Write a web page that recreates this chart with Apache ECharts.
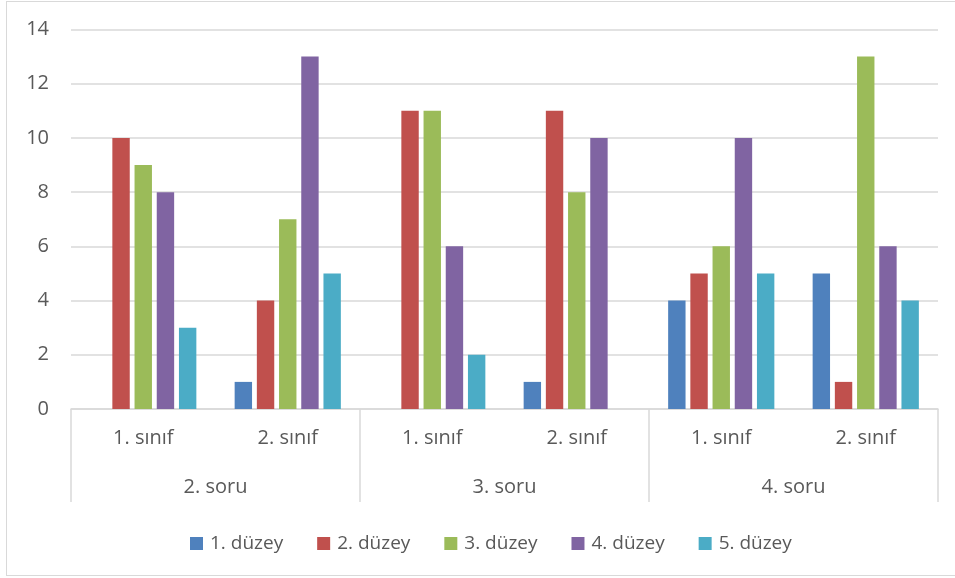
<!DOCTYPE html>
<html>
<head>
<meta charset="utf-8">
<script src="https://cdn.jsdelivr.net/npm/echarts@6/dist/echarts.min.js"></script>
<style>
html,body{margin:0;padding:0;background:#fff;}
#frame{position:absolute;left:6px;top:1px;width:955px;height:575px;border:1.5px solid #d9d9d9;border-right:none;box-sizing:border-box;}
#c{position:absolute;left:0;top:0;width:955px;height:578px;}
</style>
</head>
<body>
<div id="frame"></div>
<div id="c"></div>
<script>
const subCategories = ["1. sınıf", "2. sınıf", "1. sınıf", "2. sınıf", "1. sınıf", "2. sınıf"];
const groups = ["2. soru", "3. soru", "4. soru"];
const seriesNames = ["1. düzey", "2. düzey", "3. düzey", "4. düzey", "5. düzey"];
const duzey1 = [0, 1, 0, 1, 4, 5];
const duzey2 = [10, 4, 11, 11, 5, 1];
const duzey3 = [9, 7, 11, 8, 6, 13];
const duzey4 = [8, 13, 6, 10, 10, 6];
const duzey5 = [3, 5, 2, 0, 5, 4];
const yTicks = [0, 2, 4, 6, 8, 10, 12, 14];

const colors = ["#4F81BD", "#C0504D", "#9BBB59", "#8064A2", "#4BACC6"];
const allData = [duzey1, duzey2, duzey3, duzey4, duzey5];
const font = "'Open Sans', sans-serif";

const chart = echarts.init(document.getElementById('c'), null, {renderer: 'canvas'});
chart.setOption({
  animation: false,
  color: colors,
  textStyle: {fontFamily: font},
  grid: {left: 71, right: 17, top: 29.5, bottom: 169, containLabel: false},
  legend: {
    left: 185, top: 529,
    itemWidth: 13, itemHeight: 13, itemGap: 34,
    icon: 'rect',
    textStyle: {color: '#595959', fontSize: 19, fontFamily: font, padding: [0, 0, 0, 2]},
    data: seriesNames
  },
  xAxis: [
    {
      type: 'category', data: subCategories, position: 'bottom',
      axisLine: {show: true, lineStyle: {color: '#d9d9d9', width: 1.5}},
      axisTick: {show: false},
      axisLabel: {color: '#595959', fontSize: 20, margin: 19, fontFamily: font},
      splitLine: {show: false}
    },
    {
      type: 'category', data: groups, position: 'bottom', gridIndex: 0,
      axisLine: {show: false},
      axisTick: {show: true, length: 93, alignWithLabel: false, lineStyle: {color: '#d9d9d9', width: 1.5}},
      axisLabel: {color: '#595959', fontSize: 20, margin: 68, fontFamily: font},
      splitLine: {show: false}
    }
  ],
  yAxis: {
    type: 'value', min: 0, max: 14, interval: 2,
    axisLine: {show: false}, axisTick: {show: false},
    axisLabel: {color: '#595959', fontSize: 20, margin: 22, fontFamily: font,
      formatter: v => yTicks.includes(v) ? String(v) : ''},
    splitLine: {lineStyle: {color: '#d9d9d9', width: 1.5}}
  },
  series: seriesNames.map((name, i) => ({
    name, type: 'bar', xAxisIndex: 0, data: allData[i],
    barGap: '27.6%', barCategoryGap: '26.5%',
    itemStyle: {color: colors[i]}
  }))
});
</script>
</body>
</html>
